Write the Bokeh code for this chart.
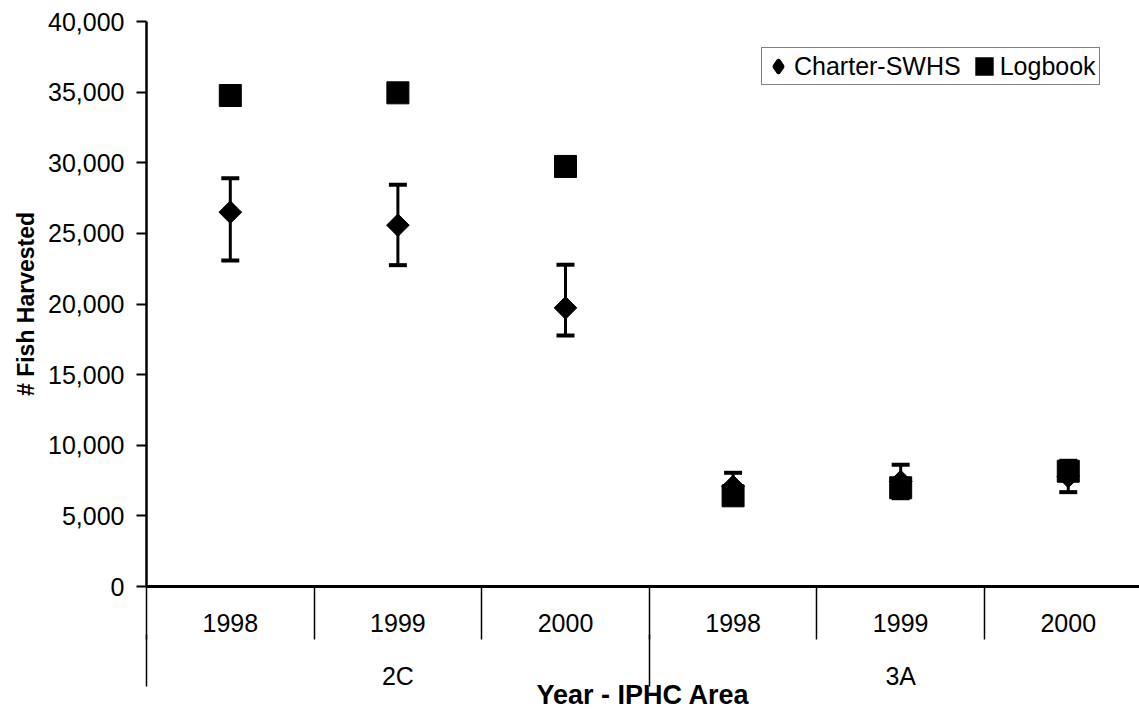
import math
from bokeh.plotting import figure
from bokeh.models import (ColumnDataSource, Range1d, SingleIntervalTicker, FixedTicker,
                          NumeralTickFormatter, Whisker, TeeHead, Legend, LegendItem,
                          LinearAxis)
from bokeh.embed import file_html
from bokeh.resources import INLINE

# ---- data ----
areas = ["2C", "2C", "2C", "3A", "3A", "3A"]
years = ["1998", "1999", "2000", "1998", "1999", "2000"]
charter = [26500, 25580, 19730, 7080, 7430, 7790]
charter_upper = [28900, 28440, 22780, 8050, 8620, 8900]
charter_lower = [23080, 22750, 17770, 6100, 6250, 6680]
logbook = [34760, 34950, 29740, 6420, 6990, 8160]
y_ticks_interval = 5000

FONT = "Liberation Sans"
n = len(years)
xpos = [i + 0.5 for i in range(n)]          # category centres
group_names = ["2C", "3A"]
group_centres = [1.5, 4.5]
year_bounds = list(range(n + 1))
group_bounds = [0, 3, 6]

src = ColumnDataSource(dict(x=xpos, charter=charter, upper=charter_upper,
                            lower=charter_lower, logbook=logbook))

p = figure(width=1139, height=716, output_backend="svg", toolbar_location=None,
           x_range=Range1d(0, 5.925), y_range=Range1d(0, 40000), x_axis_type=None)
p.min_border_left = 146
p.min_border_right = 0
p.min_border_top = 21
p.min_border_bottom = 130
p.outline_line_color = None
p.background_fill_color = "white"
p.border_fill_color = "white"
p.xgrid.grid_line_color = None
p.ygrid.grid_line_color = None

yax = p.yaxis[0]
yax.ticker = SingleIntervalTicker(interval=y_ticks_interval, num_minor_ticks=0)
yax.formatter = NumeralTickFormatter(format="0,0")
yax.axis_line_width = 2.5
yax.axis_line_color = "black"
yax.major_tick_line_width = 2
yax.major_tick_out = 10
yax.major_tick_in = 0
yax.minor_tick_line_color = None
yax.major_label_text_font = FONT
yax.major_label_text_font_size = "25px"
yax.major_label_text_color = "black"
yax.major_label_standoff = 12
yax.axis_label = "# Fish Harvested"
yax.axis_label_text_font = FONT
yax.axis_label_text_font_size = "23px"
yax.axis_label_text_font_style = "bold"
yax.axis_label_text_color = "black"
yax.axis_label_standoff = 6

# year row
xax1 = LinearAxis(ticker=FixedTicker(ticks=xpos, minor_ticks=year_bounds),
                  major_label_overrides={float(v): y for v, y in zip(xpos, years)})
xax1.axis_line_width = 3
xax1.axis_line_color = "black"
xax1.major_tick_line_color = None
xax1.major_tick_out = 0
xax1.major_tick_in = 0
xax1.minor_tick_line_color = "black"
xax1.minor_tick_line_width = 1.5
xax1.minor_tick_out = 53
xax1.minor_tick_in = 0
xax1.major_label_text_font = FONT
xax1.major_label_text_font_size = "25px"
xax1.major_label_text_color = "black"
xax1.major_label_standoff = -26
p.add_layout(xax1, "below")

# area row
xax2 = LinearAxis(ticker=FixedTicker(ticks=group_centres, minor_ticks=group_bounds),
                  major_label_overrides={float(v): g for v, g in zip(group_centres, group_names)})
xax2.axis_line_color = None
xax2.major_tick_line_color = None
xax2.major_tick_out = 0
xax2.major_tick_in = 0
xax2.minor_tick_line_color = "black"
xax2.minor_tick_line_width = 1.5
xax2.minor_tick_out = 52
xax2.minor_tick_in = 0
xax2.major_label_text_font = FONT
xax2.major_label_text_font_size = "25px"
xax2.major_label_text_color = "black"
xax2.major_label_standoff = -25
xax2.axis_label = "Year - IPHC Area"
xax2.axis_label_text_font = FONT
xax2.axis_label_text_font_size = "27px"
xax2.axis_label_text_font_style = "bold"
xax2.axis_label_text_color = "black"
xax2.axis_label_standoff = -13
p.add_layout(xax2, "below")

wh = Whisker(base="x", upper="upper", lower="lower", source=src, dimension="height",
             line_width=3, line_color="black",
             upper_head=TeeHead(size=18, line_width=4, line_color="black"),
             lower_head=TeeHead(size=18, line_width=4, line_color="black"))
p.add_layout(wh)

r1 = p.scatter("x", "charter", source=src, marker="square", angle=math.pi / 4,
               size=16, fill_color="black", line_color="black")
r2 = p.scatter("x", "logbook", source=src, marker="square", size=22,
               fill_color="black", line_color="black")

# legend-only renderers (one NaN row, never drawn in the plot) so the key
# symbols get their own sizes
key_src = ColumnDataSource(dict(x=[float("nan")], y=[float("nan")]))
k1 = p.scatter("x", "y", source=key_src, marker="diamond",
               fill_color="black", line_color="black", line_width=5,
               line_join="round")
k2 = p.scatter("x", "y", source=key_src, marker="square",
               fill_color="black", line_color="black", line_width=8,
               line_join="miter")

legend = Legend(items=[LegendItem(label="Charter-SWHS", renderers=[k1]),
                       LegendItem(label="Logbook", renderers=[k2])],
                orientation="horizontal", location=(615, 501))
legend.label_text_font = FONT
legend.label_text_font_size = "25px"
legend.label_text_color = "black"
legend.border_line_color = "black"
legend.border_line_width = 1.5
legend.background_fill_color = "white"
legend.padding = 3
legend.spacing = 10
legend.glyph_width = 26
legend.glyph_height = 26
legend.label_standoff = 3
legend.label_height = 30
p.add_layout(legend)

open("out.html", "w").write(file_html(p, INLINE))
